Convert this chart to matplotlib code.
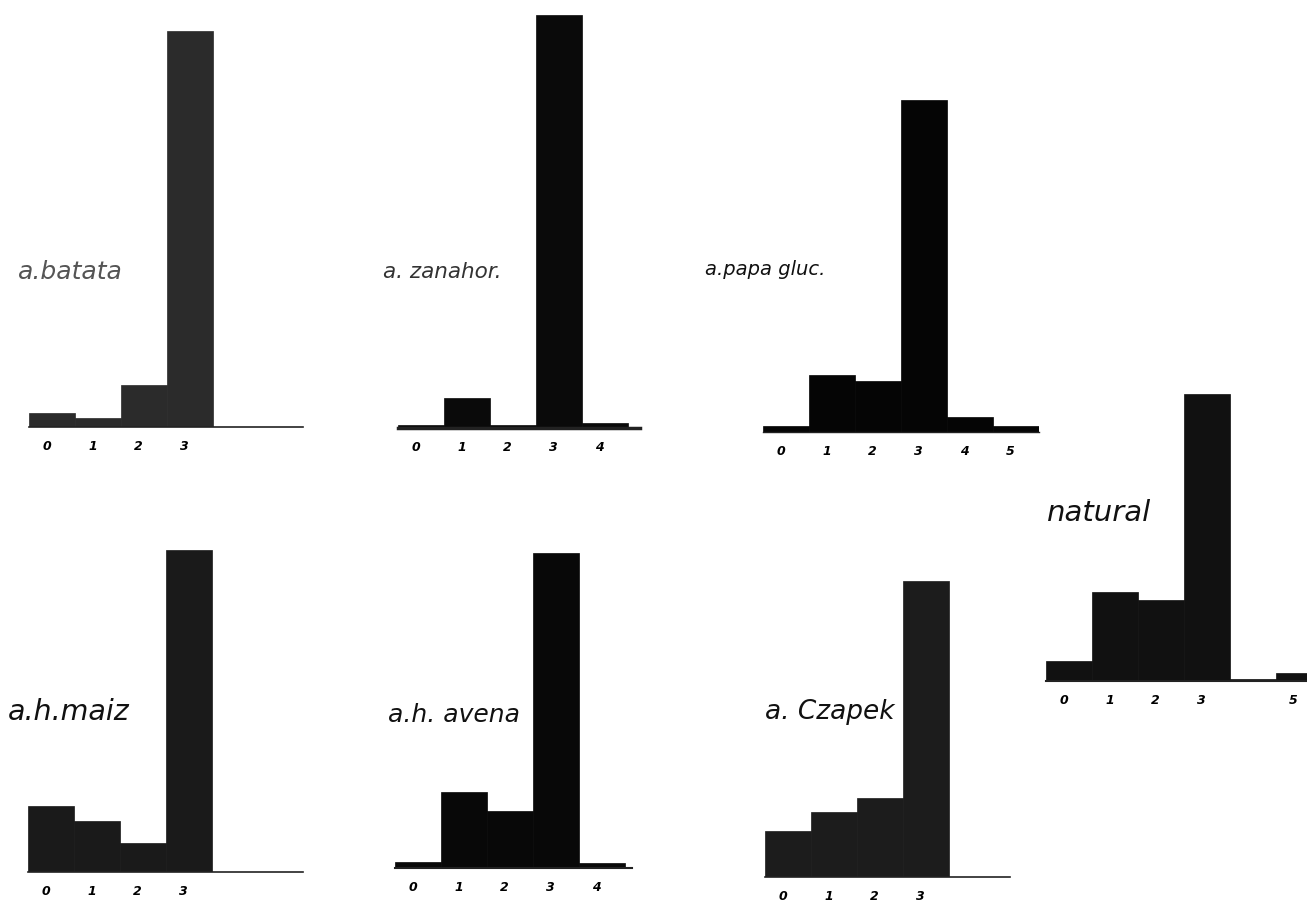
import matplotlib
matplotlib.use("Agg")
import matplotlib.pyplot as plt

# frecuencias (%) por clase
batata = [3.0, 1.9, 8.9, 84.3]
zanahor = [0.6, 6.4, 0.6, 87.9, 1.1]
papa_gluc = [1.3, 12.1, 10.9, 70.6, 3.2, 1.3]
natural = [4.3, 18.9, 17.2, 61.1, 0.4, 1.7]
maiz = [14.0, 10.9, 6.2, 68.5]
avena = [1.3, 16.2, 12.1, 67.0, 1.1]
czapek = [9.8, 13.8, 16.8, 63.0]

etiquetas_batata = ["0", "1", "2", "3"]
etiquetas_zanahor = ["0", "1", "2", "3", "4"]
etiquetas_papa = ["0", "1", "2", "3", "4", "5"]
etiquetas_natural = ["0", "1", "2", "3", "", "5"]
etiquetas_maiz = ["0", "1", "2", "3"]
etiquetas_avena = ["0", "1", "2", "3", "4"]
etiquetas_czapek = ["0", "1", "2", "3"]

W, H = 1307, 903
PX_BIN = 46      # ancho de una clase en pixeles
PX_UNIT = 4.7    # pixeles por 1 %
YMAX = 95


def histograma(fig, valores, etiquetas, x_izq, y_base, x_fin, color, lw=1.5):
    """Dibuja un histograma con la primera barra empezando en x_izq (px)."""
    ancho = x_fin - x_izq
    alto = YMAX * PX_UNIT
    ax = fig.add_axes([x_izq / W, (H - y_base) / H, ancho / W, alto / H])
    ax.patch.set_visible(False)
    pos = list(range(len(valores)))
    ax.bar(pos, valores, width=1.0, color=color, edgecolor=color, linewidth=0.5)
    ax.set_xlim(-0.5, ancho / PX_BIN - 0.5)
    ax.set_ylim(0, YMAX)
    for s in ["top", "left", "right"]:
        ax.spines[s].set_visible(False)
    ax.spines["bottom"].set_linewidth(lw)
    ax.spines["bottom"].set_color("#222222")
    ax.set_yticks([])
    ax.set_xticks([p - 0.12 for p in pos])
    ax.set_xticklabels(etiquetas, fontsize=9, fontstyle="italic", fontweight="bold")
    ax.tick_params(axis="x", length=0, pad=9)
    return ax


def rotulo(fig, texto, x, y, size, color="#111111"):
    fig.text(x / W, (H - y) / H, texto, fontsize=size, fontstyle="italic",
             color=color, va="center", ha="left")


fig = plt.figure(figsize=(W / 100, H / 100), dpi=100)
fig.patch.set_facecolor("white")

histograma(fig, batata, etiquetas_batata, 29, 428, 303, "#2b2b2b", lw=1.2)
histograma(fig, zanahor, etiquetas_zanahor, 398, 429, 640, "#0a0a0a", lw=2.5)
histograma(fig, papa_gluc, etiquetas_papa, 763, 433, 1039, "#050505", lw=1.0)
histograma(fig, natural, etiquetas_natural, 1046, 682, 1330, "#111111", lw=1.5)
histograma(fig, maiz, etiquetas_maiz, 28, 873, 303, "#1a1a1a", lw=1.2)
histograma(fig, avena, etiquetas_avena, 395, 869, 632, "#080808", lw=1.5)
histograma(fig, czapek, etiquetas_czapek, 765, 878, 1010, "#1c1c1c", lw=1.2)

rotulo(fig, "a.batata", 18, 272, 18, "#555555")
rotulo(fig, "a. zanahor.", 383, 272, 15.5, "#333333")
rotulo(fig, "a.papa gluc.", 705, 270, 14)
rotulo(fig, "natural", 1047, 513, 21)
rotulo(fig, "a.h.maiz", 8, 712, 20.5)
rotulo(fig, "a.h. avena", 388, 715, 18)
rotulo(fig, "a. Czapek", 765, 712, 19)

fig.savefig("out.png", dpi=100)
